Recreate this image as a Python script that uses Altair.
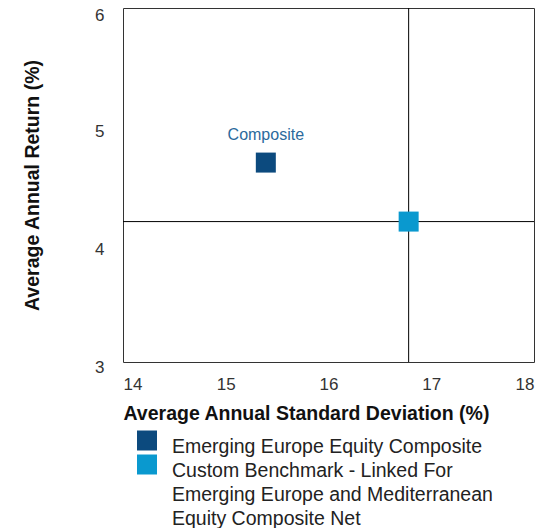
import altair as alt
import pandas as pd

# ---- data ----
names = [
    "Emerging Europe Equity Composite",
    "Custom Benchmark - Linked For Emerging Europe and Mediterranean Equity Composite Net",
]
legend_lines_benchmark = [
    "Custom Benchmark - Linked For",
    "Emerging Europe and Mediterranean",
    "Equity Composite Net",
]
std_dev = [15.39, 16.78]
returns = [4.69, 4.19]
point_labels = ["Composite", ""]
colors = ["#0c4a7e", "#0a99cf"]
x_ticks = [14, 15, 16, 17, 18]
y_ticks = [3, 4, 5, 6]

df = pd.DataFrame({"name": names, "sd": std_dev, "ret": returns, "lab": point_labels})
comp = df.iloc[[0]]
bench = df.iloc[[1]]

xs = alt.Scale(domain=[x_ticks[0], x_ticks[-1]], nice=False, zero=False)
ys = alt.Scale(domain=[y_ticks[0], y_ticks[-1]], nice=False, zero=False)

arr = "[" + ",".join("'" + s + "'" for s in legend_lines_benchmark) + "]"
label_expr = f"datum.label == '{names[1]}' ? {arr} : datum.label"

x_enc = alt.X("sd:Q", scale=xs, axis=alt.Axis(
    title="Average Annual Standard Deviation (%)", values=x_ticks,
    labelPadding=14, titlePadding=12, titleAnchor="start"))
y_enc = alt.Y("ret:Q", scale=ys, axis=alt.Axis(
    title="Average Annual Return (%)", values=y_ticks,
    labelPadding=19,
    labelOffset={"condition": {"test": f"datum.value == {y_ticks[-1]}", "value": 7}, "value": 5},
    titlePadding=52))


def legend_at(ly):
    return alt.Legend(
        title=None, orient="none", legendX=14, legendY=ly,
        symbolType="M-1,-0.75L1,-0.75L1,1.25L-1,1.25Z",
        symbolSize=400, symbolStrokeWidth=0,
        labelFontSize=19.5, labelOffset=15, labelLimit=0,
        labelColor="#222", labelFont="Liberation Sans",
        labelExpr=label_expr, labelBaseline="top")


vrule = alt.Chart(bench).mark_rule(color="#000", strokeWidth=1).encode(x=x_enc)
hrule = alt.Chart(bench).mark_rule(color="#000", strokeWidth=1).encode(y=y_enc)

pt_comp = alt.Chart(comp).mark_square(size=400, opacity=1).encode(
    x=x_enc, y=y_enc,
    color=alt.Color("name:N", scale=alt.Scale(domain=[names[0]], range=[colors[0]]),
                    legend=legend_at(420)),
)
pt_bench = alt.Chart(bench).mark_square(size=400, opacity=1).encode(
    x=x_enc, y=y_enc,
    color=alt.Color("name:N", scale=alt.Scale(domain=[names[1]], range=[colors[1]]),
                    legend=legend_at(444)),
)

text = alt.Chart(comp).mark_text(
    dy=-28, fontSize=16, color="#2b6a9c", font="Liberation Sans"
).encode(x=x_enc, y=y_enc, text="lab:N")

chart = alt.layer(vrule, hrule, pt_comp, pt_bench, text).resolve_scale(
    color="independent"
).properties(
    width=411, height=354,
    autosize=alt.AutoSizeParams(type="none"),
    padding={"left": 115, "top": 0, "right": 5, "bottom": 166},
).configure(
    view={"stroke": "#333", "strokeWidth": 1},
    axis={
        "grid": False, "ticks": False, "domain": False,
        "labelFont": "Liberation Sans", "labelFontSize": 17, "labelColor": "#333",
        "titleFont": "Liberation Sans", "titleFontSize": 19.5,
        "titleFontWeight": "bold", "titleColor": "#111",
    },
    style={"guide-label": {"lineHeight": 24}},
)

chart.save("out.html", embed_options={"renderer": "svg", "actions": False})
